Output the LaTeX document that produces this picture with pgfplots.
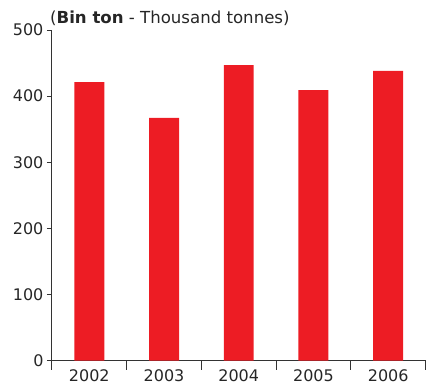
\documentclass[border=0pt]{standalone}
\usepackage{pgfplots}
\pgfplotsset{compat=1.18}
\usepackage{fontspec}
\setmainfont{DejaVu Sans}
\definecolor{barred}{HTML}{ED1C24}
\definecolor{axisgray}{HTML}{333333}

\begin{document}
\begin{tikzpicture}
  \begin{axis}[
    scale only axis,
    width=374pt, height=331pt,
    xmin=-0.5, xmax=4.5,
    ymin=0, ymax=500,
    axis x line=bottom, axis y line=left,
    axis line style={axisgray, line width=0.9pt, -},
    xtick={0,...,4},
    xticklabels={2002,2003,2004,2005,2006},
    minor xtick={-0.5,0.5,1.5,2.5,3.5,4.5},
    ytick={0,100,...,500},
    tick align=outside,
    major tick length=5pt,
    minor tick length=9pt,
    major x tick style={draw=none},
    tick style={axisgray, line width=0.9pt},
    ticklabel style={font=\fontsize{16}{18}\selectfont, text=black!85},
    /pgf/number format/assume math mode=true,
    clip=false,
  ]
    \addplot[ybar, bar width=30pt, fill=barred, draw=none]
      coordinates {(0,421) (1,367) (2,447) (3,409) (4,438)};
    \node[anchor=south west, inner sep=0pt, font=\fontsize{16.6}{18}\selectfont, text=black!85]
      at (rel axis cs:0,1) [xshift=-2pt, yshift=4pt] {(\textbf{Bin ton} - Thousand tonnes)};
  \end{axis}
  \path (-52pt,-28pt) rectangle (374pt,361pt);
\end{tikzpicture}
\end{document}
